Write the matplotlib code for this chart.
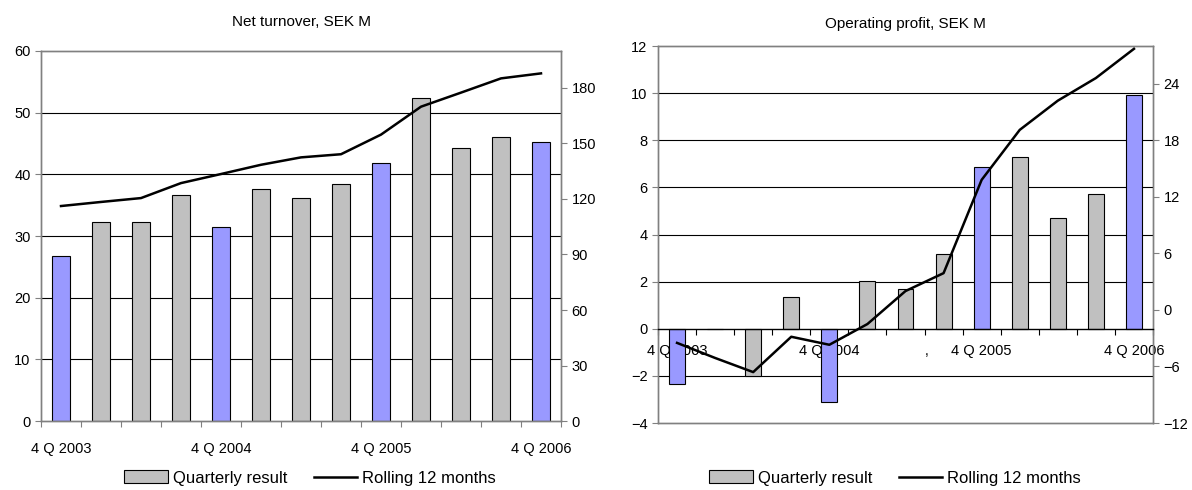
import matplotlib
matplotlib.use("Agg")
import matplotlib.pyplot as plt
from matplotlib.patches import Patch
from matplotlib.lines import Line2D

plt.rcParams['font.family'] = ['Liberation Sans', 'DejaVu Sans']

# Quarters 4Q2003 .. 4Q2006
quarters = ["4 Q 2003", "1 Q 2004", "2 Q 2004", "3 Q 2004", "4 Q 2004",
            "1 Q 2005", "2 Q 2005", "3 Q 2005", "4 Q 2005",
            "1 Q 2006", "2 Q 2006", "3 Q 2006", "4 Q 2006"]
shown_labels = {0: "4 Q 2003", 4: "4 Q 2004", 8: "4 Q 2005", 12: "4 Q 2006"}

turnover_quarter = [26.8, 32.3, 32.3, 36.7, 31.5, 37.7, 36.2, 38.5, 41.9, 52.4, 44.3, 46.1, 45.3]
turnover_rolling = [116.2, 118.4, 120.5, 128.6, 133.5, 138.5, 142.5, 144.2, 154.8, 169.9, 177.5, 185.2, 187.9]

profit_quarter = [-2.34, 0.0, -2.02, 1.36, -3.11, 2.01, 1.70, 3.17, 6.87, 7.27, 4.68, 5.72, 9.91]
profit_rolling = [-3.5, -5.1, -6.6, -2.85, -3.7, -1.5, 2.0, 3.9, 13.8, 19.1, 22.2, 24.6, 27.7]

BLUE = "#9999FF"
GREY = "#C0C0C0"
FRAME = "#808080"

fig = plt.figure(figsize=(11.92, 4.90), dpi=100)
W, H = 1192, 490


def rect(x0, y0, x1, y1):
    return [x0 / W, 1 - y1 / H, (x1 - x0) / W, (y1 - y0) / H]


def bar_colors(n):
    return [BLUE if i % 4 == 0 else GREY for i in range(n)]


def style_axes(ax, ax2):
    for a in (ax, ax2):
        for s in a.spines.values():
            s.set_color(FRAME)
            s.set_linewidth(1.0)
        a.tick_params(axis='both', which='both', labelsize=10.5, colors='black',
                      direction='out', length=4, width=0.8)
    ax.tick_params(axis='both', which='major', color=FRAME)
    ax2.tick_params(axis='y', color=FRAME)


n = len(quarters)
xs = list(range(n))
boundaries = [i - 0.5 for i in range(n + 1)]

# ---------------- Net turnover ----------------
ax1 = fig.add_axes(rect(41, 51, 561, 421))
ax1.set_xlim(-0.5, n - 0.5)
ax1.set_ylim(0, 60)
ax1.set_yticks(range(0, 61, 10))
for g in range(10, 60, 10):
    ax1.axhline(g, color='black', lw=0.8, zorder=1)
ax1.bar(xs, turnover_quarter, width=0.45, color=bar_colors(n),
        edgecolor='black', linewidth=0.8, zorder=2)
ax1.set_xticks(boundaries)
ax1.set_xticklabels([])
ax1.set_xticks(xs, minor=True)
ax1.set_xticklabels([shown_labels.get(i, "") for i in xs], minor=True)
ax1b = ax1.twinx()
ax1b.set_ylim(0, 200)
ax1b.set_yticks(range(0, 181, 30))
ax1b.plot(xs, turnover_rolling, color='black', lw=1.8, zorder=3)
style_axes(ax1, ax1b)
ax1.tick_params(axis='x', which='minor', length=0, pad=15, labelsize=10.5)
ax1.set_title("Net turnover, SEK M", fontsize=11, pad=18)

# ---------------- Operating profit ----------------
ax2 = fig.add_axes(rect(658, 46, 1153, 423))
ax2.set_xlim(-0.5, n - 0.5)
ax2.set_ylim(-4, 12)
ax2.set_yticks(range(-4, 13, 2))
for g in (-2, 2, 4, 6, 8, 10):
    ax2.axhline(g, color='black', lw=0.8, zorder=1)
ax2.bar(xs, profit_quarter, width=0.42, color=bar_colors(n),
        edgecolor='black', linewidth=0.8, zorder=2)
# category axis crossing at zero, frame kept at the bottom
ax2.spines['bottom'].set_position(('data', 0))
ax2.axhline(-4, color=FRAME, lw=1.0, zorder=4, clip_on=False)
ax2.set_xticks(boundaries)
ax2.set_xticklabels([])
ax2.set_xticks(xs, minor=True)
ax2.set_xticklabels([shown_labels.get(i, "") for i in xs], minor=True)
ax2b = ax2.twinx()
ax2b.set_ylim(-12, 28)
ax2b.set_yticks(range(-12, 25, 6))
style_axes(ax2, ax2b)
ax2.spines['bottom'].set_color('black')
ax2.tick_params(axis='x', which='major', color='black')
ax2.tick_params(axis='x', which='minor', length=0, pad=11, labelsize=10.5)
ax2.text(6.55, -0.95, ",", fontsize=10, ha='center', va='center', zorder=5)
ax2.set_title("Operating profit, SEK M", fontsize=11, pad=13)

# bars and grid sit on the primary axes; bring it forward and draw the
# rolling line (in right-axis units) on top of the bars
ax2b.set_zorder(0)
ax2.set_zorder(1)
ax2.patch.set_visible(False)
ax2.plot(xs, profit_rolling, color='black', lw=1.8, zorder=3,
         transform=ax2b.transData)

# ---------------- Legends ----------------
handles = [Patch(facecolor=GREY, edgecolor='black', linewidth=0.8),
           Line2D([0], [0], color='black', lw=1.8)]
names = ["Quarterly result", "Rolling 12 months"]
for cx in (310 / W, 895 / W):
    fig.legend(handles, names, loc='center', bbox_to_anchor=(cx, 1 - 478 / H),
               ncol=2, frameon=False, fontsize=12, handlelength=2.6,
               handleheight=0.8, handletextpad=0.3, columnspacing=1.6)

fig.savefig("out.png", dpi=100)
